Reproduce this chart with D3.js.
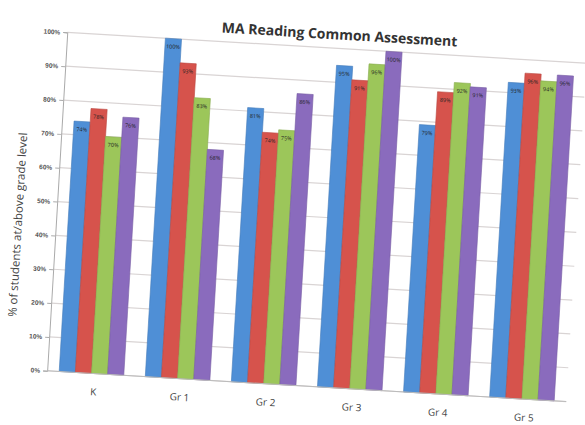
<!DOCTYPE html>
<html>
<head>
<meta charset="utf-8">
<script src="https://cdn.jsdelivr.net/npm/d3@7"></script>
<style>
  body { margin: 0; background: #fff; }
  svg { font-family: "Open Sans", "Liberation Sans", sans-serif; }
</style>
</head>
<body>
<div id="chart"></div>
<script>
// chart values
var grades = ['K', 'Gr 1', 'Gr 2', 'Gr 3', 'Gr 4', 'Gr 5'];
var series1 = [74, 100, 81, 95, 79, 93];
var series2 = [78, 93, 74, 91, 89, 96];
var series3 = [70, 83, 75, 96, 92, 94];
var series4 = [76, 68, 86, 100, 91, 96];
var yTicks = [0, 10, 20, 30, 40, 50, 60, 70, 80, 90, 100];

var allSeries = [series1, series2, series3, series4];
var colors = ['#4f8fd6', '#d6534c', '#9cc65a', '#8a6bbd'];

var width = 585, height = 425;
var margin = { top: 46, right: 8, bottom: 40, left: 57 };

var svg = d3.select('#chart').append('svg')
  .attr('width', width)
  .attr('height', height);

// the reference is a photo of a slightly turned sheet, so rotate everything a bit
var g = svg.append('g')
  .attr('transform', 'rotate(3.4,292,212)');

var x0 = d3.scaleBand()
  .domain(grades)
  .range([margin.left, width - margin.right])
  .paddingInner(0.25)
  .paddingOuter(0.14);

var x1 = d3.scaleBand()
  .domain(d3.range(allSeries.length))
  .range([0, x0.bandwidth()]);

var y = d3.scaleLinear()
  .domain([0, 100])
  .range([height - margin.bottom, margin.top]);

// gridlines
g.append('g')
  .selectAll('line')
  .data(yTicks)
  .enter()
  .append('line')
  .attr('x1', margin.left)
  .attr('x2', width - margin.right)
  .attr('y1', function (d) { return y(d); })
  .attr('y2', function (d) { return y(d); })
  .attr('stroke', '#d9d4d4')
  .attr('stroke-width', 1.2);

// y axis
var yAxis = g.append('g')
  .attr('transform', 'translate(' + margin.left + ',0)')
  .call(d3.axisLeft(y).tickValues(yTicks).tickSize(4).tickFormat(function (d) { return d + '%'; }));
yAxis.select('.domain').attr('stroke', '#aaa');
yAxis.selectAll('.tick line').attr('stroke', '#aaa');
yAxis.selectAll('text').attr('font-size', 6.5).attr('fill', '#555').attr('font-weight', 'bold');

// bars
var groups = g.append('g')
  .selectAll('g')
  .data(grades)
  .enter()
  .append('g')
  .attr('transform', function (d) { return 'translate(' + x0(d) + ',0)'; });

groups.selectAll('rect')
  .data(function (d, i) {
    return allSeries.map(function (s, k) { return { k: k, v: s[i] }; });
  })
  .enter()
  .append('rect')
  .attr('x', function (d) { return x1(d.k); })
  .attr('width', x1.bandwidth())
  .attr('y', function (d) { return y(d.v); })
  .attr('height', function (d) { return y(0) - y(d.v); })
  .attr('fill', function (d) { return colors[d.k]; })
  .attr('stroke', function (d) { return d3.color(colors[d.k]).darker(0.4); })
  .attr('stroke-width', 0.6);

// value labels at top of each bar
groups.selectAll('text')
  .data(function (d, i) {
    return allSeries.map(function (s, k) { return { k: k, v: s[i] }; });
  })
  .enter()
  .append('text')
  .attr('x', function (d) { return x1(d.k) + x1.bandwidth() / 2; })
  .attr('y', function (d) { return y(d.v) + 10; })
  .attr('text-anchor', 'middle')
  .attr('font-size', 5.5)
  .attr('fill', '#222')
  .text(function (d) { return d.v + '%'; });

// baseline
g.append('line')
  .attr('x1', margin.left)
  .attr('x2', width - margin.right)
  .attr('y1', y(0))
  .attr('y2', y(0))
  .attr('stroke', '#bbb');

// category labels
g.append('g')
  .selectAll('text')
  .data(grades)
  .enter()
  .append('text')
  .attr('x', function (d) { return x0(d) + x0.bandwidth() / 2 + 3; })
  .attr('y', height - 18)
  .attr('text-anchor', 'middle')
  .attr('font-size', 10)
  .attr('fill', '#444')
  .text(function (d) { return d; });

// title
g.append('text')
  .attr('x', 329)
  .attr('y', 37)
  .attr('text-anchor', 'middle')
  .attr('font-size', 14)
  .attr('font-weight', 'bold')
  .attr('fill', '#333')
  .text('MA Reading Common Assessment');

// y axis title
g.append('text')
  .attr('transform', 'translate(23,241) rotate(-90)')
  .attr('text-anchor', 'middle')
  .attr('font-size', 11.5)
  .attr('fill', '#444')
  .text('% of students at/above grade level');
</script>
</body>
</html>
